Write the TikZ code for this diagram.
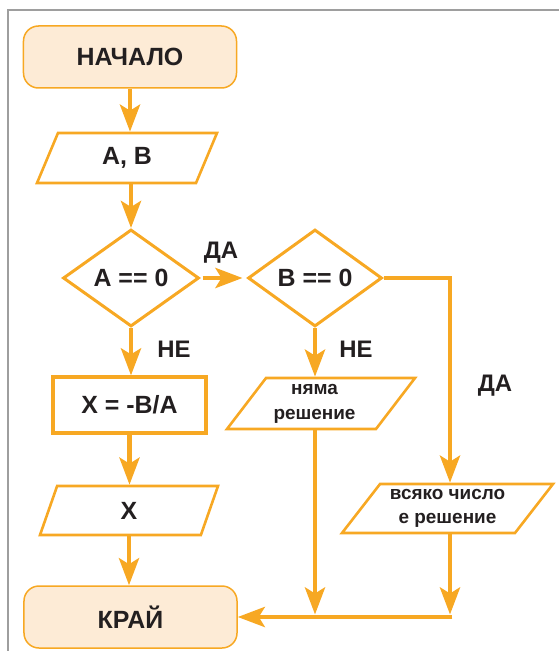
\documentclass[tikz,border=0pt]{standalone}
\usepackage{fontspec}
\setmainfont{Liberation Sans}
\usetikzlibrary{shapes.geometric,arrows.meta}
\definecolor{orng}{HTML}{F7A823}
\definecolor{peach}{HTML}{FDEBD6}
\definecolor{ink}{HTML}{231F20}
\definecolor{framegray}{HTML}{9E9E9E}
\begin{document}
\begin{tikzpicture}[x=1bp,y=-1bp,
  every node/.style={text=ink},
  bigtext/.style={font=\fontsize{25}{28}\selectfont\bfseries},
  terminal/.style={rectangle, rounded corners=15bp, draw=orng, fill=peach,
    line width=1.5bp, minimum width=213bp, minimum height=62bp, inner sep=0, bigtext},
  iobox/.style={trapezium, trapezium left angle=45, trapezium right angle=135,
    trapezium stretches body, draw=orng, line width=2.6bp, inner sep=0},
  decision/.style={diamond, draw=orng, line width=3bp, inner sep=0, bigtext},
  process/.style={rectangle, draw=orng, line width=3.2bp, inner sep=0, bigtext},
  lbl/.style={font=\fontsize{24}{27}\selectfont\bfseries},
  conn/.style={draw=orng, line width=4.7bp},
  arr/.style={conn, -{Stealth[length=27bp,width=20bp,inset=6bp]}}
]
\useasboundingbox (0,0) rectangle (559,651);

% page frame
\draw[framegray, line width=2.6bp] (8,651) -- (8,10) -- (559,10);

% left column
\node[terminal] (start) at (130,57) {НАЧАЛО};
\node[iobox, minimum width=180bp, minimum height=50bp, bigtext] (ab) at (127,158) {A, B};
\node[decision, minimum width=136bp, minimum height=97bp] (d1) at (131,278) {A == 0};
\node[process, minimum width=153bp, minimum height=56bp] (calc) at (129.5,405) {X = -B/A};
\node[iobox, minimum width=178bp, minimum height=49bp, bigtext] (xout) at (129,510.5) {X};
\node[terminal] (stop) at (130.5,617) {КРАЙ};

% right branch
\node[decision, minimum width=134bp, minimum height=97bp] (d2) at (315,278) {B == 0};
\node[iobox, minimum width=188bp, minimum height=51bp, align=center,
  font=\fontsize{19}{25}\selectfont\bfseries] (none) at (321,403.5) {\hspace*{-13bp}няма\\\hspace*{-13bp}решение};
\node[iobox, minimum width=211bp, minimum height=49bp, align=center,
  font=\fontsize{19}{24}\selectfont\bfseries] (any) at (447.5,508.5) {всяко число\\е решение};

% branch labels
\node[lbl] (yes1) at (221,253) {ДА};
\node[lbl] (no1) at (174,349) {НЕ};
\node[lbl] (no2) at (356,349) {НЕ};
\node[lbl] (yes2) at (495,386) {ДА};

% joining point in front of the end terminal
\coordinate (joinR) at (450,617);

% connectors
\draw[arr] (start.south) -- (start.south |- ab.north);
\draw[arr] (d1.north |- ab.south) -- (d1.north);
\draw[arr, shorten <=2bp, shorten >=4bp] (d1.east) -- (d2.west);
\draw[arr] (d1.south) -- (d1.south |- calc.north);
\draw[arr] (calc.south) -- (calc.south |- xout.north);
\draw[arr] (xout.south) -- (xout.south |- stop.north);
\draw[arr] (d2.south) -- (d2.south |- none.north);
\draw[arr] (d2.east) -| (joinR |- any.north);
\draw[arr, shorten >=2.5bp] (d2.south |- none.south) -- (d2.south |- joinR);
\draw[arr, shorten >=2.5bp] (joinR |- any.south) -- (joinR);
\draw[arr] ([xshift=2.35bp]joinR) -- (stop.east);
\end{tikzpicture}
\end{document}
